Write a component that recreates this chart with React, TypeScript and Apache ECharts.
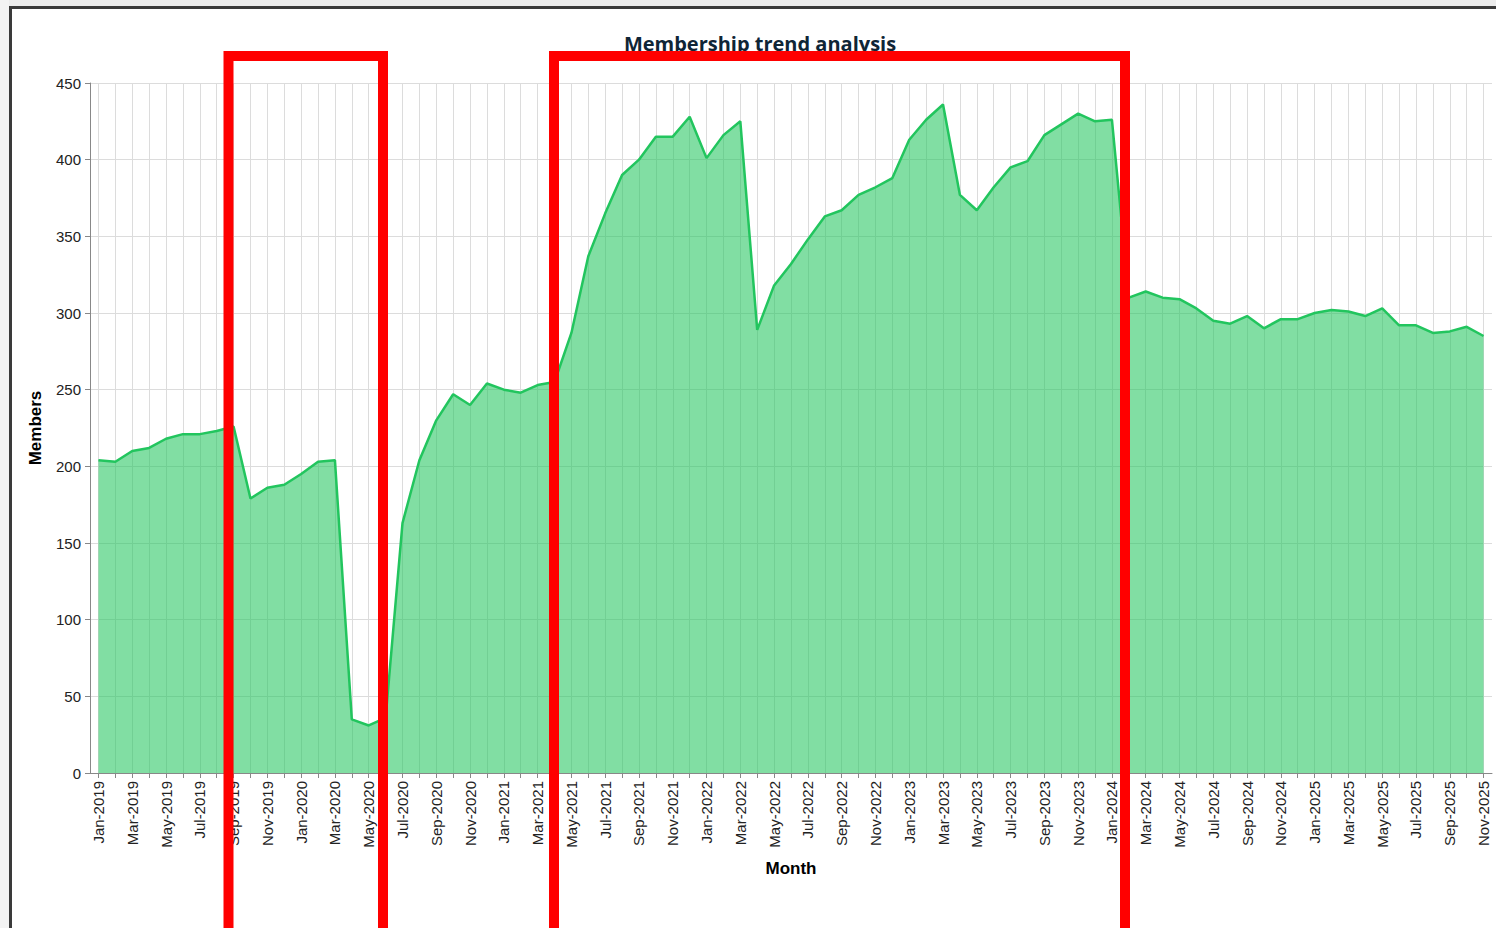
import React, { useEffect, useRef } from "react";
import * as echarts from "echarts";

const MONTH_NAMES = ["Jan", "Feb", "Mar", "Apr", "May", "Jun", "Jul", "Aug", "Sep", "Oct", "Nov", "Dec"];
const YEARS = [2019, 2020, 2021, 2022, 2023, 2024, 2025];
const LAST_MONTH_INDEX_2025 = 10; // Nov

const months: string[] = [];
YEARS.forEach((y) => {
  MONTH_NAMES.forEach((m, i) => {
    if (y === 2025 && i > LAST_MONTH_INDEX_2025) return;
    months.push(`${m}-${y}`);
  });
});

const members2019 = [204, 203, 210, 212, 218, 221, 221, 223, 226, 179, 186, 188];
const members2020 = [195, 203, 204, 35, 31, 36, 163, 204, 230, 247, 240, 254];
const members2021 = [250, 248, 253, 255, 287, 337, 365, 390, 400, 415, 415, 428];
const members2022 = [401, 416, 425, 289, 318, 332, 348, 363, 367, 377, 382, 388];
const members2023 = [413, 426, 436, 377, 367, 382, 395, 399, 416, 423, 430, 425];
const members2024 = [426, 310, 314, 310, 309, 303, 295, 293, 298, 290, 296, 296];
const members2025 = [300, 302, 301, 298, 303, 292, 292, 287, 288, 291, 285];

const members = [
  ...members2019,
  ...members2020,
  ...members2021,
  ...members2022,
  ...members2023,
  ...members2024,
  ...members2025,
];

const yTicks = { min: 0, max: 450, interval: 50 };

export default function App() {
  const ref = useRef<HTMLDivElement>(null);

  useEffect(() => {
    if (!ref.current) return;
    const chart = echarts.init(ref.current, null, { renderer: "svg" });
    const labelFont = "'Liberation Sans', Arial, sans-serif";
    chart.setOption({
      animation: false,
      backgroundColor: "#ffffff",
      title: {
        text: "Membership trend analysis",
        left: 755,
        textAlign: "center",
        top: 28,
        textStyle: {
          fontFamily: "'Open Sans', Lato, sans-serif",
          fontWeight: "bold",
          fontSize: 20,
          color: "#0f2536",
        },
      },
      grid: { left: 90, right: 4, top: 83, bottom: 155, containLabel: false },
      xAxis: {
        type: "category",
        data: months,
        boundaryGap: true,
        name: "Month",
        nameLocation: "middle",
        nameGap: 87,
        nameTextStyle: { fontFamily: labelFont, fontWeight: "bold", fontSize: 17, color: "#000" },
        axisLine: { show: true, lineStyle: { color: "#888888", width: 1 } },
        axisTick: { show: true, interval: 0, alignWithLabel: true, length: 5, lineStyle: { color: "#888888" } },
        axisLabel: {
          interval: 1,
          rotate: 90,
          margin: 8,
          fontFamily: labelFont,
          fontSize: 15,
          color: "#222222",
        },
        splitLine: { show: true, interval: 0, alignWithLabel: true, lineStyle: { color: "#dcdcdc", width: 1 } },
      },
      yAxis: {
        type: "value",
        min: yTicks.min,
        max: yTicks.max,
        interval: yTicks.interval,
        name: "Members",
        nameLocation: "middle",
        nameGap: 46,
        nameTextStyle: { fontFamily: labelFont, fontWeight: "bold", fontSize: 17, color: "#000" },
        axisLine: { show: true, lineStyle: { color: "#888888", width: 1 } },
        axisTick: { show: true, length: 5, lineStyle: { color: "#888888" } },
        axisLabel: { margin: 9, fontFamily: labelFont, fontSize: 15, color: "#222222" },
        splitLine: { show: true, lineStyle: { color: "#dcdcdc", width: 1 } },
      },
      series: [
        {
          type: "line",
          data: members,
          symbol: "none",
          lineStyle: { color: "#22c55e", width: 2.5 },
          itemStyle: { color: "#22c55e" },
          areaStyle: { color: "#22c55e", opacity: 0.57 },
          z: 2,
        },
      ],
      graphic: [
        { type: "rect", shape: { x: 0, y: 0, width: 1496, height: 6 }, style: { fill: "#ececec" }, silent: true },
        { type: "rect", shape: { x: 0, y: 0, width: 9, height: 928 }, style: { fill: "#f3f3f3" }, silent: true },
        { type: "line", shape: { x1: 9, y1: 7.5, x2: 1496, y2: 7.5 }, style: { stroke: "#3a3a3a", lineWidth: 3 }, silent: true },
        { type: "line", shape: { x1: 10.5, y1: 6, x2: 10.5, y2: 928 }, style: { stroke: "#3a3a3a", lineWidth: 3 }, silent: true },
        {
          type: "rect",
          shape: { x: 228.5, y: 56, width: 154.5, height: 900 },
          style: { fill: "none", stroke: "#ff0000", lineWidth: 10 },
          z: 100,
          silent: true,
        },
        {
          type: "rect",
          shape: { x: 554, y: 56, width: 571, height: 900 },
          style: { fill: "none", stroke: "#ff0000", lineWidth: 10 },
          z: 100,
          silent: true,
        },
      ],
    });
    return () => chart.dispose();
  }, []);

  return (
    <div
      ref={ref}
      style={{ position: "fixed", left: 0, top: 0, width: 1496, height: 928 }}
    />
  );
}
